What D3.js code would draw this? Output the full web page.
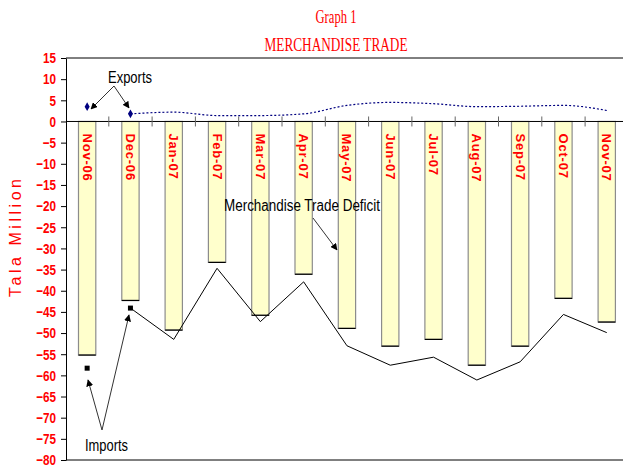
<!DOCTYPE html>
<html lang="en">
<head>
    <meta charset="UTF-8">
    <title>Merchandise Trade</title>
    <script src="https://cdn.jsdelivr.net/npm/d3@7"></script>
    <style>
        body { margin: 0; background: white; }
        svg { display: block; }
    </style>
</head>
<body>
<script>
    // values (Tala million)
    var months = ["Nov-06", "Dec-06", "Jan-07", "Feb-07", "Mar-07", "Apr-07", "May-07",
                  "Jun-07", "Jul-07", "Aug-07", "Sep-07", "Oct-07", "Nov-07"];
    var deficit = [-55.2, -42.3, -49.3, -33.3, -45.8, -36.1, -48.9, -53.1, -51.5, -57.6, -53.1, -41.8, -47.4];
    var imports = [-58.3, -44.1, -51.5, -34.7, -47.3, -37.9, -53.0, -57.6, -55.7, -61.1, -56.8, -45.6, -49.9];
    var exportsV = [3.5, 1.8, 2.2, 1.4, 1.4, 1.8, 3.8, 4.5, 4.2, 3.5, 3.6, 3.8, 2.6];
    var yTicks = d3.range(-80, 16, 5);

    var W = 623, H = 468;
    var plotLeft = 66, plotTop = 58, plotBottom = 460;
    var step = 43.3;

    var svg = d3.select("body").append("svg")
        .attr("width", W)
        .attr("height", H);

    svg.append("defs").append("marker")
        .attr("id", "arr")
        .attr("viewBox", "0 0 10 10")
        .attr("refX", 9).attr("refY", 5)
        .attr("markerWidth", 7).attr("markerHeight", 7)
        .attr("markerUnits", "userSpaceOnUse")
        .attr("orient", "auto")
        .append("path")
        .attr("d", "M0,0 L10,5 L0,10 z")
        .attr("fill", "black");

    var x = d3.scaleBand()
        .domain(months)
        .range([plotLeft - 0.5, plotLeft - 0.5 + step * months.length]);

    var y = d3.scaleLinear()
        .domain([-80, 15])
        .range([plotBottom, plotTop]);

    var bw = x.bandwidth() * 0.4;
    var cx = function (m) { return x(m) + x.bandwidth() / 2; };

    // titles
    svg.append("text")
        .attr("x", 336).attr("y", 23)
        .attr("text-anchor", "middle")
        .attr("textLength", 41).attr("lengthAdjust", "spacingAndGlyphs")
        .style("font", "18px 'Liberation Serif', 'Times New Roman', serif")
        .style("fill", "red")
        .text("Graph 1");

    svg.append("text")
        .attr("x", 336).attr("y", 51)
        .attr("text-anchor", "middle")
        .attr("textLength", 143).attr("lengthAdjust", "spacingAndGlyphs")
        .style("font", "18px 'Liberation Serif', 'Times New Roman', serif")
        .style("fill", "red")
        .text("MERCHANDISE TRADE");

    // frame lines top / bottom
    svg.append("line")
        .attr("x1", plotLeft).attr("x2", W).attr("y1", y(15)).attr("y2", y(15))
        .attr("stroke", "black");
    svg.append("line")
        .attr("x1", plotLeft).attr("x2", W).attr("y1", y(-80)).attr("y2", y(-80))
        .attr("stroke", "black");

    // bars (trade deficit)
    var bars = svg.append("g");
    bars.selectAll("rect")
        .data(months)
        .enter().append("rect")
        .attr("x", function (d) { return cx(d) - bw / 2; })
        .attr("y", y(0))
        .attr("width", bw)
        .attr("height", function (d, i) { return y(deficit[i]) - y(0); })
        .attr("fill", "#FFFFCC")
        .attr("stroke", "#8c8c8c")
        .attr("stroke-width", 1.2);
    bars.selectAll("line")
        .data(months)
        .enter().append("line")
        .attr("x1", function (d) { return cx(d) - bw / 2; })
        .attr("x2", function (d) { return cx(d) + bw / 2; })
        .attr("y1", function (d, i) { return y(deficit[i]); })
        .attr("y2", function (d, i) { return y(deficit[i]); })
        .attr("stroke", "black")
        .attr("stroke-width", 1.2);

    // x axis line at 0 with ticks between the categories
    svg.append("line")
        .attr("x1", plotLeft).attr("x2", W).attr("y1", y(0)).attr("y2", y(0))
        .attr("stroke", "black");
    svg.append("g").selectAll("line")
        .data(months.slice(1))
        .enter().append("line")
        .attr("x1", function (d) { return x(d); })
        .attr("x2", function (d) { return x(d); })
        .attr("y1", y(0) - 5).attr("y2", y(0) + 5)
        .attr("stroke", "#666");

    // category labels inside the bars
    svg.append("g").selectAll("text")
        .data(months)
        .enter().append("text")
        .attr("transform", function (d) { return "translate(" + cx(d) + "," + (y(0) + 12) + ") rotate(90)"; })
        .attr("dominant-baseline", "central")
        .style("font", "bold 13px 'Liberation Sans', Arial, sans-serif")
        .style("letter-spacing", "0.8px")
        .style("fill", "red")
        .text(function (d) { return d; });

    // y axis
    var yAxis = svg.append("g")
        .attr("transform", "translate(" + plotLeft + ",0)")
        .call(d3.axisLeft(y).tickValues(yTicks).tickSize(5).tickSizeOuter(0).tickPadding(5));
    yAxis.select(".domain").attr("stroke", "black");
    yAxis.selectAll(".tick line").attr("stroke", "black");
    yAxis.selectAll("text")
        .style("font", "bold 15px 'Liberation Sans', Arial, sans-serif")
        .style("fill", "red")
        .each(function () {
            var t = d3.select(this);
            t.attr("textLength", this.getComputedTextLength() * 0.78)
             .attr("lengthAdjust", "spacingAndGlyphs");
        });

    svg.append("text")
        .attr("transform", "translate(21,238) rotate(-90)")
        .attr("text-anchor", "middle")
        .attr("textLength", 118).attr("lengthAdjust", "spacing")
        .style("font", "16px 'Liberation Sans', Arial, sans-serif")
        .style("fill", "red")
        .text("Tala Million");

    // imports: single marker for Nov-06, then line from Dec-06
    var impLine = d3.line()
        .defined(function (d, i) { return i > 0; })
        .x(function (d, i) { return cx(months[i]); })
        .y(function (d) { return y(d); });
    svg.append("path")
        .attr("d", impLine(imports))
        .attr("fill", "none")
        .attr("stroke", "black")
        .attr("stroke-width", 1);
    svg.append("g").selectAll("rect")
        .data(imports.slice(0, 2))
        .enter().append("rect")
        .attr("x", function (d, i) { return cx(months[i]) - 2.5; })
        .attr("y", function (d) { return y(d) - 2.5; })
        .attr("width", 5).attr("height", 5)
        .attr("fill", "black");

    // exports: dotted navy line from Dec-06
    var expLine = d3.line()
        .defined(function (d, i) { return i > 0; })
        .x(function (d, i) { return cx(months[i]); })
        .y(function (d) { return y(d); })
        .curve(d3.curveMonotoneX);
    svg.append("path")
        .attr("d", expLine(exportsV))
        .attr("fill", "none")
        .attr("stroke", "#000080")
        .attr("stroke-width", 1.2)
        .attr("stroke-dasharray", "2,2");
    svg.append("g").selectAll("path")
        .data(exportsV.slice(0, 2))
        .enter().append("path")
        .attr("transform", function (d, i) { return "translate(" + cx(months[i]) + "," + y(d) + ")"; })
        .attr("d", d3.symbol(d3.symbolDiamond, 22))
        .attr("fill", "#000080");

    // annotations
    var annFont = "16px 'Liberation Sans', Arial, sans-serif";
    function note(txt, tx, ty, len, arrows) {
        svg.append("text")
            .attr("x", tx).attr("y", ty)
            .attr("textLength", len).attr("lengthAdjust", "spacingAndGlyphs")
            .style("font", annFont)
            .style("fill", "black")
            .text(txt);
        arrows.forEach(function (a) {
            svg.append("line")
                .attr("x1", a[0]).attr("y1", a[1])
                .attr("x2", a[2]).attr("y2", a[3])
                .attr("stroke", "#333")
                .attr("marker-end", "url(#arr)");
        });
    }
    note("Exports", 108, 83, 44, [[114, 86, 91, 109], [114, 86, 129, 108]]);
    note("Imports", 85, 451, 43, [[102, 430, 88, 380], [102, 430, 129, 315]]);
    note("Merchandise Trade Deficit", 224, 211, 156, [[313, 218, 337, 250]]);
</script>
</body>
</html>
